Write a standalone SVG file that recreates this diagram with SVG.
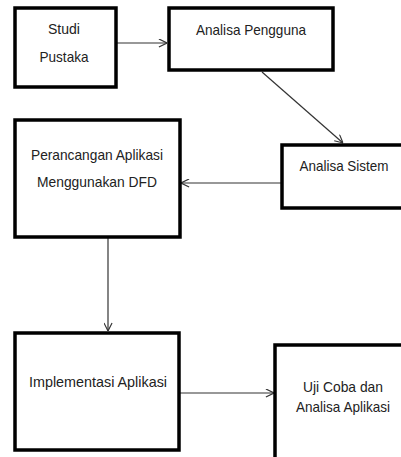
<svg xmlns="http://www.w3.org/2000/svg" width="401" height="457" viewBox="0 0 401 457">
<style>
.box{fill:#fff;stroke:#000;stroke-width:3.5}
.t{font-family:"Liberation Sans",Arial,sans-serif;font-size:15px;fill:#222;text-anchor:middle}
.c{stroke:#333;stroke-width:1.2;fill:none;marker-end:url(#ah)}
</style>
<defs>
<marker id="ah" viewBox="0 0 10 10" refX="10" refY="5" markerWidth="9" markerHeight="9" markerUnits="userSpaceOnUse" orient="auto">
<path d="M1,0.5 L10,5 L1,9.5" fill="none" stroke="#333" stroke-width="1.3"/>
</marker>
</defs>
<rect width="401" height="457" fill="#fff"/>
<g id="connectors">
<line class="c" x1="117" y1="43" x2="167" y2="43"/>
<line class="c" x1="262" y1="72" x2="343" y2="143"/>
<line class="c" x1="282" y1="183" x2="181" y2="183"/>
<line class="c" x1="108" y1="238" x2="108" y2="331"/>
<line class="c" x1="179" y1="393" x2="274" y2="393"/>
</g>
<g id="studi-pustaka">
<rect class="box" x="15" y="8" width="101" height="79"/>
<text class="t" x="64" y="34" textLength="32" lengthAdjust="spacingAndGlyphs">Studi</text>
<text class="t" x="64" y="62" textLength="49" lengthAdjust="spacingAndGlyphs">Pustaka</text>
</g>
<g id="analisa-pengguna">
<rect class="box" x="169" y="8" width="164" height="62"/>
<text class="t" x="251" y="35" textLength="110" lengthAdjust="spacingAndGlyphs">Analisa Pengguna</text>
</g>
<g id="analisa-sistem">
<rect class="box" x="282" y="145" width="130" height="63"/>
<text class="t" x="344" y="171" textLength="89" lengthAdjust="spacingAndGlyphs">Analisa Sistem</text>
</g>
<g id="perancangan">
<rect class="box" x="15" y="120" width="165" height="117"/>
<text class="t" x="97" y="160" textLength="132" lengthAdjust="spacingAndGlyphs">Perancangan Aplikasi</text>
<text class="t" x="97" y="187" textLength="120" lengthAdjust="spacingAndGlyphs">Menggunakan DFD</text>
</g>
<g id="implementasi">
<rect class="box" x="15" y="333" width="164" height="117"/>
<text class="t" x="98" y="387" textLength="138" lengthAdjust="spacingAndGlyphs">Implementasi Aplikasi</text>
</g>
<g id="uji-coba">
<rect class="box" x="275" y="345" width="140" height="130"/>
<text class="t" x="343" y="392" textLength="80" lengthAdjust="spacingAndGlyphs">Uji Coba dan</text>
<text class="t" x="343" y="412" textLength="94" lengthAdjust="spacingAndGlyphs">Analisa Aplikasi</text>
</g>
</svg>
